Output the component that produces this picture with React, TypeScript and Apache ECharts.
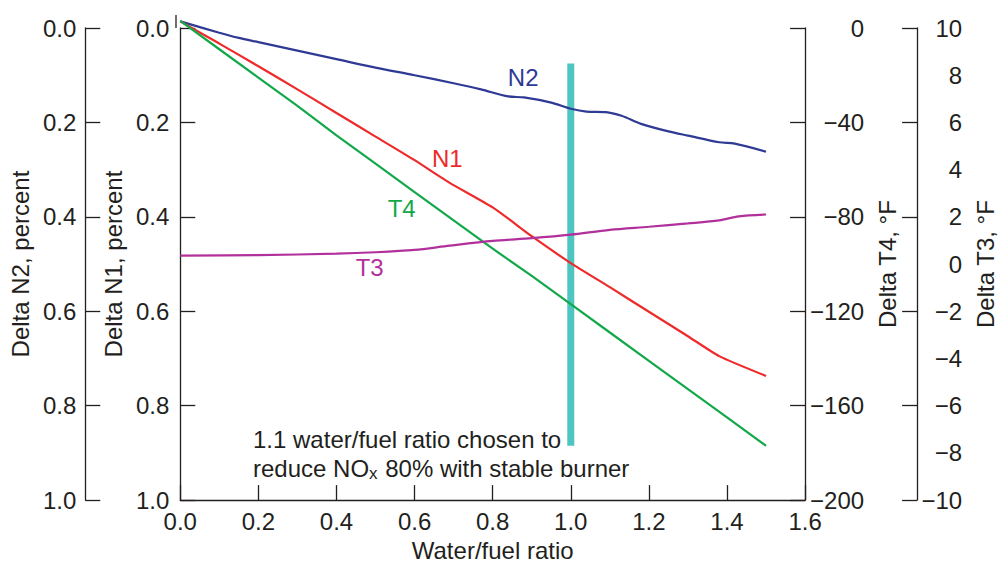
import React, { useEffect, useRef } from "react";
import * as echarts from "echarts";

const xTicks = [0, 0.2, 0.4, 0.6, 0.8, 1.0, 1.2, 1.4, 1.6];

const n2X = [0, 0.1, 0.15, 0.2, 0.3, 0.4, 0.5, 0.6, 0.7, 0.77, 0.84, 0.88, 0.95, 1.0, 1.04, 1.09, 1.13, 1.18, 1.25, 1.3, 1.38, 1.42, 1.5];
const n2Y = [-0.014, 0.01, 0.021, 0.03, 0.048, 0.066, 0.084, 0.1, 0.117, 0.13, 0.145, 0.147, 0.158, 0.171, 0.177, 0.178, 0.186, 0.203, 0.219, 0.228, 0.242, 0.245, 0.262];

const n1X = [0, 0.1, 0.2, 0.3, 0.4, 0.5, 0.6, 0.69, 0.8, 0.9, 1.0, 1.1, 1.2, 1.3, 1.38, 1.5];
const n1Y = [-0.014, 0.033, 0.081, 0.13, 0.18, 0.23, 0.28, 0.328, 0.38, 0.441, 0.498, 0.549, 0.601, 0.653, 0.695, 0.737];

const t4X = [0, 0.1, 0.2, 0.3, 0.4, 0.5, 0.6, 0.7, 0.8, 0.9, 1.0, 1.1, 1.2, 1.3, 1.4, 1.5];
const t4Y = [3, -9, -21, -33, -45.5, -57.5, -69.5, -81.5, -93.5, -105, -117, -129, -141, -153, -165, -177];

const t3X = [0, 0.2, 0.4, 0.5, 0.6, 0.69, 0.8, 0.9, 1.0, 1.1, 1.2, 1.3, 1.38, 1.43, 1.5];
const t3Y = [0.36, 0.38, 0.44, 0.5, 0.6, 0.78, 0.98, 1.1, 1.25, 1.45, 1.58, 1.72, 1.85, 2.02, 2.1];

const chosenRatio = 1.0;
const chosenSpan = [0.075, 0.885];

const FONT = "'Liberation Sans', Arial, Helvetica, sans-serif";
const C_N2 = "#2e3a94";
const C_N1 = "#ee2a2a";
const C_T4 = "#12a84a";
const C_T3 = "#b2309c";
const C_CY = "#4ec5c1";
const C_AX = "#231f20";
const FS = 24;

const pairs = (xs: number[], ys: number[]) => xs.map((x, i) => [x, ys[i]]);
const minus = (s: string) => s.replace("-", "\u2212");

export default function App() {
  const ref = useRef<HTMLDivElement>(null);
  useEffect(() => {
    if (!ref.current) return;
    document.body.style.margin = "0";
    document.body.style.overflow = "hidden";
    document.documentElement.style.overflow = "hidden";
    const chart = echarts.init(ref.current, undefined, { renderer: "svg" });
    const axisLine = { show: true, onZero: false, lineStyle: { color: C_AX, width: 1.3 } };
    const tick = { show: true, inside: true, length: 15, lineStyle: { color: C_AX, width: 1.3 } };
    const lbl = { color: C_AX, fontSize: FS, fontFamily: FONT };
    const nameStyle = { color: C_AX, fontSize: FS, fontFamily: FONT };
    const seriesLabel = (text: string, color: string, coord: number[]) => ({
      symbol: "circle",
      symbolSize: 0,
      silent: true,
      label: { show: true, position: "inside", formatter: text, color, fontSize: FS, fontFamily: FONT },
      data: [{ coord }],
    });
    chart.setOption({
      animation: false,
      backgroundColor: "#ffffff",
      grid: { left: 176, right: 189, top: 28, bottom: 58, containLabel: false },
      xAxis: {
        type: "value",
        min: 0,
        max: 1.6,
        interval: 0.2,
        axisLine,
        axisTick: tick,
        splitLine: { show: false },
        axisLabel: { ...lbl, margin: 9, formatter: (v: number) => v.toFixed(1) },
        name: "Water/fuel ratio",
        nameLocation: "middle",
        nameGap: 32,
        nameTextStyle: nameStyle,
      },
      yAxis: [
        {
          type: "value",
          position: "left",
          inverse: true,
          min: 0,
          max: 1,
          interval: 0.2,
          axisLine,
          axisTick: tick,
          splitLine: { show: false },
          axisLabel: { ...lbl, margin: 11, formatter: (v: number) => v.toFixed(1) },
          name: "Delta N1, percent",
          nameLocation: "middle",
          nameRotate: 90,
          nameGap: 45,
          nameTextStyle: nameStyle,
        },
        {
          type: "value",
          position: "left",
          offset: 95,
          inverse: true,
          min: 0,
          max: 1,
          interval: 0.2,
          axisLine,
          axisTick: tick,
          splitLine: { show: false },
          axisLabel: { ...lbl, margin: 9, formatter: (v: number) => v.toFixed(1) },
          name: "Delta N2, percent",
          nameLocation: "middle",
          nameRotate: 90,
          nameGap: 38,
          nameTextStyle: nameStyle,
        },
        {
          type: "value",
          position: "right",
          min: -200,
          max: 0,
          interval: 40,
          axisLine,
          axisTick: tick,
          splitLine: { show: false },
          axisLabel: { ...lbl, margin: 59, align: "right", formatter: (v: number) => minus(String(v)) },
          name: "Delta T4, \u00B0F",
          nameLocation: "middle",
          nameRotate: 90,
          nameGap: 66,
          nameTextStyle: nameStyle,
        },
        {
          type: "value",
          position: "right",
          offset: 112,
          min: 0,
          max: 5,
          interval: 1,
          axisLine,
          axisTick: tick,
          splitLine: { show: false },
          axisLabel: { show: false },
        },
        {
          type: "value",
          position: "right",
          offset: 112,
          min: -10,
          max: 10,
          interval: 2,
          axisLine: { show: false },
          axisTick: { show: false },
          splitLine: { show: false },
          axisLabel: { ...lbl, margin: 45, align: "right", formatter: (v: number) => minus(String(v)) },
          name: "Delta T3, \u00B0F",
          nameLocation: "middle",
          nameRotate: 90,
          nameGap: 50,
          nameTextStyle: nameStyle,
        },
      ],
      series: [
        {
          name: "chosen",
          type: "line",
          yAxisIndex: 0,
          data: chosenSpan.map((v) => [chosenRatio, v]),
          showSymbol: false,
          lineStyle: { color: C_CY, width: 7, cap: "butt" },
          z: 1,
        },
        {
          name: "N2",
          type: "line",
          yAxisIndex: 1,
          data: pairs(n2X, n2Y),
          showSymbol: false,
          clip: false,
          smooth: 0.3,
          lineStyle: { color: C_N2, width: 2.2 },
          markPoint: seriesLabel("N2", C_N2, [0.878, 0.105]),
          z: 3,
        },
        {
          name: "N1",
          type: "line",
          yAxisIndex: 0,
          data: pairs(n1X, n1Y),
          showSymbol: false,
          clip: false,
          smooth: 0.2,
          lineStyle: { color: C_N1, width: 2.2 },
          markPoint: seriesLabel("N1", C_N1, [0.684, 0.277]),
          z: 3,
        },
        {
          name: "T4",
          type: "line",
          yAxisIndex: 2,
          data: pairs(t4X, t4Y),
          showSymbol: false,
          clip: false,
          lineStyle: { color: C_T4, width: 2.2 },
          markPoint: seriesLabel("T4", C_T4, [0.567, -76.5]),
          z: 3,
        },
        {
          name: "T3",
          type: "line",
          yAxisIndex: 4,
          data: pairs(t3X, t3Y),
          showSymbol: false,
          clip: false,
          smooth: 0.3,
          lineStyle: { color: C_T3, width: 2.2 },
          markPoint: seriesLabel("T3", C_T3, [0.485, -0.13]),
          z: 3,
        },
      ],
      graphic: [
        {
          type: "line",
          shape: { x1: 176, y1: 15, x2: 176, y2: 28 },
          style: { stroke: C_AX, lineWidth: 1.3 },
        },
        {
          type: "text",
          left: 253,
          top: 425,
          style: {
            text: "1.1 water/fuel ratio chosen to\nreduce NO{sub|x} 80% with stable burner",
            fill: C_AX,
            fontSize: FS,
            fontFamily: FONT,
            lineHeight: 29,
            rich: {
              sub: { fontSize: 17, fontFamily: FONT, fill: C_AX, padding: [9, 1, 0, 0] },
            },
          },
        },
      ],
    });
    return () => chart.dispose();
  }, []);
  return (
    <div
      ref={ref}
      style={{ position: "fixed", left: 0, top: 0, width: 1005, height: 567, overflow: "hidden", background: "#fff" }}
    />
  );
}
